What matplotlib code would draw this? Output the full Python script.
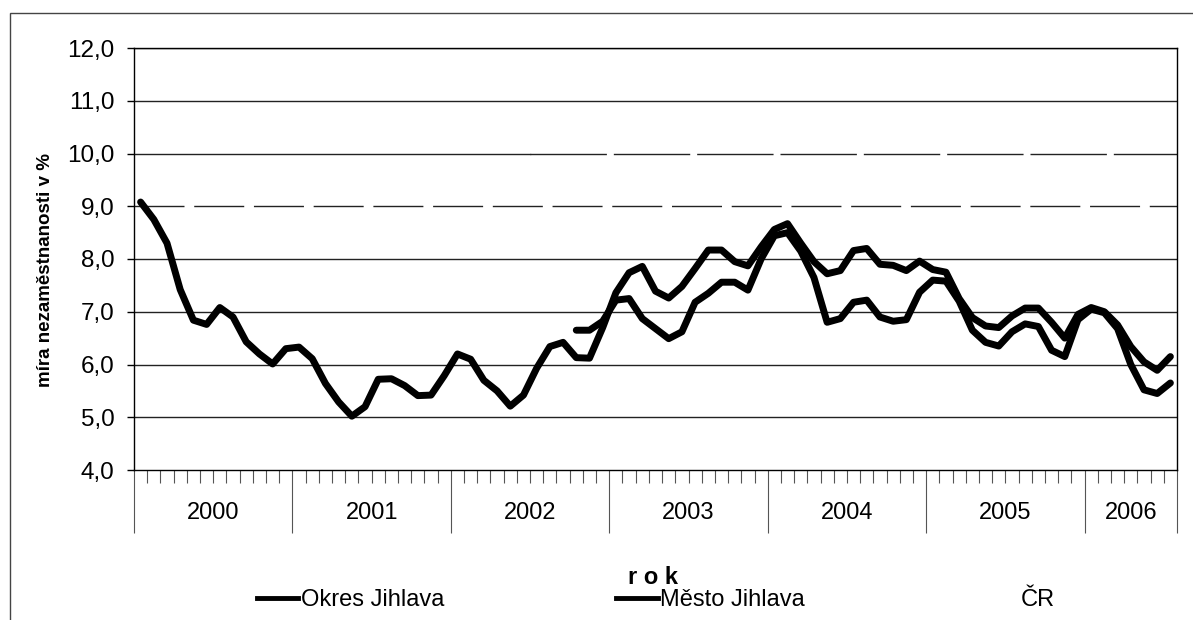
import numpy as np
import matplotlib
matplotlib.use("Agg")
import matplotlib.pyplot as plt
from matplotlib.lines import Line2D
from matplotlib.patches import Rectangle
import matplotlib.transforms as mtransforms

plt.rcParams["font.family"] = ["Liberation Sans", "DejaVu Sans"]

# měsíční data leden 2000 - červenec 2006
years = ["2000", "2001", "2002", "2003", "2004", "2005", "2006"]
months_per_year = [12, 12, 12, 12, 12, 12, 7]

okres = [9.08, 8.75, 8.30, 7.42, 6.84, 6.76, 7.08, 6.90, 6.43, 6.20, 6.01, 6.30,
         6.33, 6.11, 5.64, 5.29, 5.02, 5.20, 5.72, 5.73, 5.60, 5.41, 5.42, 5.79,
         6.20, 6.10, 5.70, 5.50, 5.21, 5.42, 5.93, 6.34, 6.42, 6.13, 6.12, 6.70,
         7.36, 7.74, 7.86, 7.39, 7.26, 7.48, 7.82, 8.17, 8.17, 7.95, 7.87, 8.23,
         8.56, 8.67, 8.30, 7.95, 7.72, 7.78, 8.16, 8.20, 7.90, 7.88, 7.78, 7.96,
         7.80, 7.75, 7.25, 6.89, 6.73, 6.70, 6.92, 7.07, 7.07, 6.80, 6.50, 6.95,
         7.08, 7.00, 6.75, 6.34, 6.05, 5.89, 6.15]

mesto = [np.nan] * 33 + [
         6.65, 6.65, 6.82,
         7.22, 7.25, 6.87, 6.68, 6.49, 6.62, 7.18, 7.35, 7.56, 7.56, 7.41, 8.00,
         8.44, 8.50, 8.15, 7.65, 6.80, 6.87, 7.18, 7.22, 6.90, 6.82, 6.85, 7.37,
         7.60, 7.58, 7.20, 6.65, 6.42, 6.35, 6.62, 6.77, 6.72, 6.27, 6.15, 6.85,
         7.05, 6.98, 6.68, 6.00, 5.52, 5.45, 5.65]

labels = ["Okres Jihlava", "Město Jihlava", "ČR"]

n = len(okres)
x = np.arange(n) + 0.5

fig = plt.figure(figsize=(11.93, 6.2), dpi=100)
ax = fig.add_axes([134 / 1193, 1 - 470 / 620, (1177 - 134) / 1193, (470 - 48) / 620])

# mřížka (některé čáry jsou ve skenu přerušované)
for lev in range(5, 13):
    if lev == 9:
        ax.axhline(lev, color="#222222", lw=1.0, dashes=(36, 7), zorder=1)
    elif lev == 10:
        ax.axhline(lev, color="#222222", lw=1.0, xmax=0.38, zorder=1)
        ax.axhline(lev, color="#222222", lw=1.0, xmin=0.38, dashes=(55, 5), zorder=1)
    else:
        ax.axhline(lev, color="#222222", lw=1.0, zorder=1)

ax.plot(x, okres, color="black", lw=5, solid_joinstyle="round",
        solid_capstyle="round", zorder=3)
ax.plot(x, mesto, color="black", lw=5, solid_joinstyle="round",
        solid_capstyle="round", zorder=3)

ax.set_xlim(0, n)
ax.set_ylim(4, 12)
ax.set_yticks(np.arange(4, 12.1, 1))
ax.set_yticklabels([f"{v:.1f}".replace(".", ",") for v in np.arange(4, 12.1, 1)])
ax.tick_params(axis="y", length=5, width=1, labelsize=17.5, pad=9)

bounds = np.concatenate([[0], np.cumsum(months_per_year)])
ax.set_xticks(bounds)
ax.set_xticklabels([])
ax.set_xticks([m for m in range(1, n) if m not in bounds], minor=True)
ax.tick_params(axis="x", which="major", length=45, width=0.8, color="#555555")
ax.tick_params(axis="x", which="minor", length=9.5, width=0.8, color="#555555")

trans = mtransforms.blended_transform_factory(ax.transData, ax.transAxes)
for i, yr in enumerate(years):
    cx = (bounds[i] + bounds[i + 1]) / 2
    ax.text(cx, -0.102, yr, transform=trans, ha="center", va="center", fontsize=17)

for s in ax.spines.values():
    s.set_color("black")
    s.set_linewidth(1.0)

ax.set_ylabel("míra nezaměstnanosti v %", fontsize=13.5, fontweight="bold")
ax.yaxis.set_label_coords(-0.077, 0.474)

fig.text(653 / 1193, 1 - 577 / 620, "r o k", ha="center", va="center",
         fontsize=17, fontweight="bold")

handles = [Line2D([], [], color="black", lw=3.5),
           Line2D([], [], color="black", lw=3.5),
           Line2D([], [], color="white", lw=3.5)]
fig.legend(handles, labels, ncol=3, loc="center left",
           bbox_to_anchor=(257 / 1193, 1 - 600 / 620), frameon=False,
           fontsize=17, handlelength=1.75, handletextpad=0.1,
           columnspacing=7.3, borderaxespad=0, borderpad=0)

# rámeček celého grafu
fig.patches.append(Rectangle((10 / 1193, -0.05), 1.2, 1.05 - 13 / 620,
                             transform=fig.transFigure, fill=False,
                             edgecolor="#444444", lw=1.0))

fig.savefig("out.png", dpi=100)
